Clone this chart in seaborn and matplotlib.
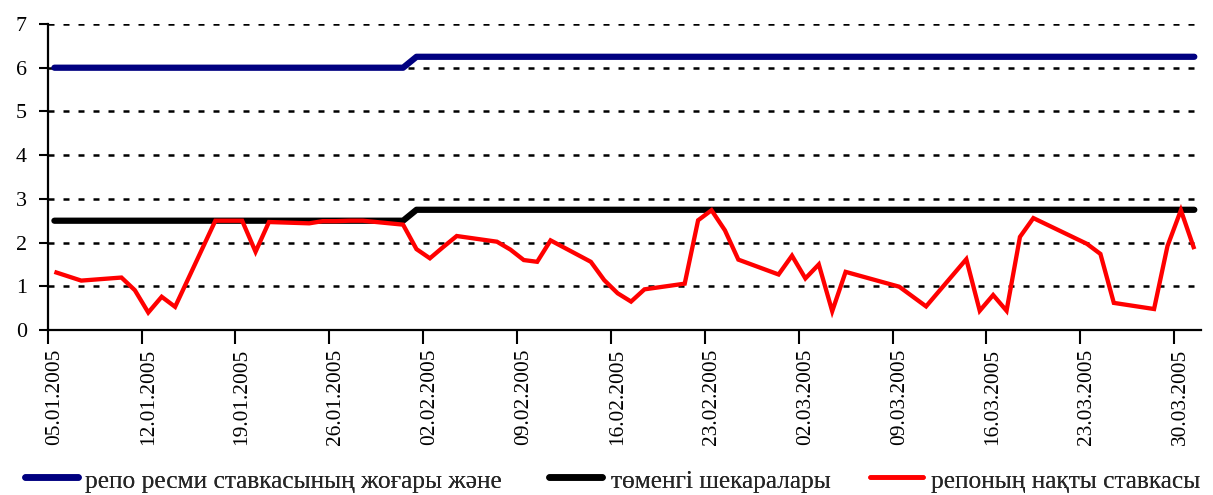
import matplotlib
matplotlib.use("Agg")
import matplotlib.pyplot as plt
import matplotlib.transforms as mtransforms
from matplotlib.lines import Line2D
import pandas as pd
import seaborn as sns

# ---- data -------------------------------------------------------------
dates = ["05.01.2005", "07.01.2005", "10.01.2005", "11.01.2005", "12.01.2005",
         "13.01.2005", "14.01.2005", "17.01.2005", "18.01.2005", "19.01.2005",
         "20.01.2005", "21.01.2005", "24.01.2005", "25.01.2005", "26.01.2005",
         "27.01.2005", "28.01.2005", "31.01.2005", "01.02.2005", "02.02.2005",
         "03.02.2005", "04.02.2005", "07.02.2005", "08.02.2005", "09.02.2005",
         "10.02.2005", "11.02.2005", "14.02.2005", "15.02.2005", "16.02.2005",
         "17.02.2005", "18.02.2005", "21.02.2005", "22.02.2005", "23.02.2005",
         "24.02.2005", "25.02.2005", "28.02.2005", "01.03.2005", "02.03.2005",
         "03.03.2005", "04.03.2005", "05.03.2005", "09.03.2005", "11.03.2005",
         "14.03.2005", "15.03.2005", "16.03.2005", "17.03.2005", "18.03.2005",
         "19.03.2005", "23.03.2005", "24.03.2005", "25.03.2005", "28.03.2005",
         "29.03.2005", "30.03.2005", "31.03.2005"]

upper = [6.0] * 18 + [6.25] * 40
lower = [2.5] * 18 + [2.75] * 40

actual = [1.33, 1.13, 1.20, 0.91, 0.40, 0.76, 0.53, 2.50, 2.50, 2.50,
          1.79, 2.47, 2.44, 2.49, 2.49, 2.50, 2.50, 2.41, 1.85, 1.64,
          1.90, 2.15, 2.02, 1.84, 1.60, 1.56, 2.05, 1.56, 1.14, 0.84,
          0.65, 0.93, 1.06, 2.51, 2.74, 2.28, 1.61, 1.27, 1.70, 1.18,
          1.50, 0.43, 1.33, 0.99, 0.54, 1.62, 0.44, 0.80, 0.44, 2.13,
          2.56, 1.97, 1.74, 0.62, 0.48, 1.92, 2.74, 1.85]

tick_dates = ["05.01.2005", "12.01.2005", "19.01.2005", "26.01.2005",
              "02.02.2005", "09.02.2005", "16.02.2005", "23.02.2005",
              "02.03.2005", "09.03.2005", "16.03.2005", "23.03.2005",
              "30.03.2005"]
y_ticks = [0, 1, 2, 3, 4, 5, 6, 7]

labels = ["репо ресми ставкасының жоғары және",
          "төменгі шекаралары",
          "репоның нақты ставкасы"]
colors = ["#000080", "#000000", "#FF0000"]

# ---- figure -----------------------------------------------------------
sns.set_theme(style="white")
plt.rcParams["font.family"] = ["Liberation Serif", "DejaVu Serif"]

W, H, DPI = 1213, 495, 100
x = pd.to_datetime(dates, format="%d.%m.%Y") + pd.Timedelta(hours=12)
df = pd.DataFrame({"date": x, "upper": upper, "lower": lower, "actual": actual})

fig = plt.figure(figsize=(W / DPI, H / DPI), dpi=DPI)
ax = fig.add_axes([47.7 / W, 1 - 330 / H, (1201 - 47.7) / W, (330 - 24) / H])

sns.lineplot(data=df, x="date", y="upper", ax=ax, color=colors[0], lw=4.5,
             solid_capstyle="round", solid_joinstyle="round", zorder=3)
sns.lineplot(data=df, x="date", y="lower", ax=ax, color=colors[1], lw=4.5,
             solid_capstyle="round", solid_joinstyle="round", zorder=3)
sns.lineplot(data=df, x="date", y="actual", ax=ax, color=colors[2], lw=3.1,
             solid_capstyle="butt", solid_joinstyle="miter", zorder=4)

start = pd.Timestamp("2005-01-05")
ax.set_xlim(start, start + pd.Timedelta(days=86))
ax.set_ylim(0, 7)
ax.set_yticks(y_ticks)
ax.set_yticklabels([str(v) for v in y_ticks], fontsize=15.8)
tk = pd.to_datetime(tick_dates, format="%d.%m.%Y")
ax.set_xticks(tk)
ax.set_xticklabels(tick_dates, rotation=90, fontsize=15.4)
ax.set_xlabel("")
ax.set_ylabel("")

ax.yaxis.grid(True, color="black", linestyle=(0, (2.4, 3.6)), linewidth=1.8)
ax.xaxis.grid(False)
ax.set_axisbelow(True)

for s in ["top", "right"]:
    ax.spines[s].set_visible(False)
for s in ["left", "bottom"]:
    ax.spines[s].set_color("black")
    ax.spines[s].set_linewidth(1.6)

ax.tick_params(axis="y", direction="out", length=6.8, width=1.5, color="black",
               pad=8.3, labelcolor="black", left=True)
ax.tick_params(axis="x", direction="out", length=10, width=1.5, color="black",
               pad=3.6, labelcolor="black", bottom=True)

offset = mtransforms.ScaledTranslation(6.6 / DPI, 0, fig.dpi_scale_trans)
for lab in ax.get_xticklabels():
    lab.set_transform(lab.get_transform() + offset)

# ---- legend: size fitted to the reference text width ------------------
fig.canvas.draw()
renderer = fig.canvas.get_renderer()
probe = fig.text(0, 0, labels[0], fontsize=18)
w18 = probe.get_window_extent(renderer=renderer).width
probe.remove()
leg_fs = 18 * 418.0 / w18
fs_px = leg_fs * DPI / 72.0

baseline_from_bottom = 7.0      # text baseline, px above the bottom edge
handle_above = 11.5             # handle centre above the baseline, px
hh = (handle_above / fs_px - 0.245) / 0.15
desc_px = max(0.35 * fs_px * (hh - 0.7), 0.22 * fs_px)
anchor_y = (baseline_from_bottom - desc_px) / H

# (line start px, line length px, gap to text px, lw pt)
entries = [(25.0, 52.8, 7.0, 4.7),
           (549.0, 52.8, 9.5, 4.7),
           (870.4, 52.2, 8.4, 3.3)]
for (x0, hl, gap, lw), lab, col in zip(entries, labels, colors):
    h = Line2D([0], [0], color=col, lw=lw, solid_capstyle="round")
    leg = fig.legend([h], [lab], loc="lower left",
                     bbox_to_anchor=(x0 / W, anchor_y), frameon=False,
                     fontsize=leg_fs, handlelength=hl / fs_px,
                     handletextpad=gap / fs_px, handleheight=hh,
                     borderpad=0, borderaxespad=0)
    fig.add_artist(leg)

fig.savefig("out.png", dpi=DPI)
